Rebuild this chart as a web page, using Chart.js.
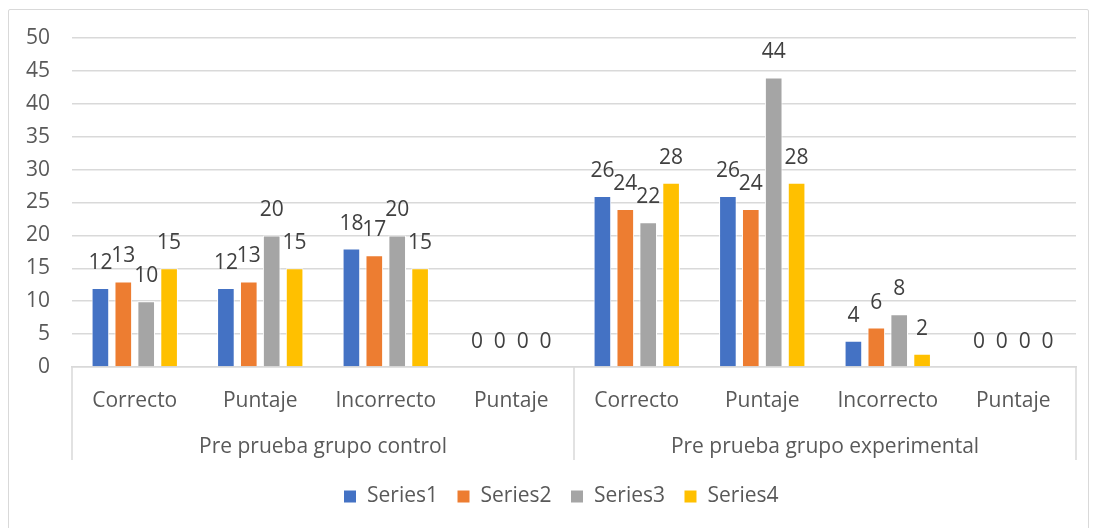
<!DOCTYPE html>
<html>
<head>
<meta charset="utf-8">
<script src="https://cdn.jsdelivr.net/npm/chart.js@4/dist/chart.umd.min.js"></script>
<style>
    html, body { margin: 0; padding: 0; background: #ffffff; }
    #wrap { position: relative; width: 1094px; height: 528px; }
    #frame { position: absolute; left: 8px; top: 9px; width: 1081px; height: 530px; border: 1px solid #d9d9d9; border-radius: 2px; box-sizing: border-box; }
    canvas { position: absolute; left: 0; top: 0; }
</style>
</head>
<body>
<div id="wrap">
    <div id="frame"></div>
    <canvas id="chart" width="1094" height="528"></canvas>
</div>
<script>
const categories = ['Correcto', 'Puntaje', 'Incorrecto', 'Puntaje', 'Correcto', 'Puntaje', 'Incorrecto', 'Puntaje'];
const groups = ['Pre prueba grupo control', 'Pre prueba grupo experimental'];

const series1 = [12, 12, 18, 0, 26, 26, 4, 0];
const series2 = [13, 13, 17, 0, 24, 24, 6, 0];
const series3 = [10, 20, 20, 0, 22, 44, 8, 0];
const series4 = [15, 15, 15, 0, 28, 28, 2, 0];

const yTicks = [0, 5, 10, 15, 20, 25, 30, 35, 40, 45, 50];

const colors = {
    blue: '#4472C4',
    orange: '#ED7D31',
    gray: '#A5A5A5',
    yellow: '#FFC000',
};

const fontFamily = '"Open Sans", sans-serif';
const fontSize = 21;
const axisTextColor = '#595959';
const labelTextColor = '#404040';
const lineColor = '#d9d9d9';

// value labels above each bar
const valueLabels = {
    id: 'valueLabels',
    afterDatasetsDraw(chart) {
        const ctx = chart.ctx;
        ctx.save();
        ctx.font = fontSize + 'px ' + fontFamily;
        ctx.fillStyle = labelTextColor;
        ctx.textAlign = 'center';
        ctx.textBaseline = 'middle';
        chart.data.datasets.forEach((ds, i) => {
            chart.getDatasetMeta(i).data.forEach((bar, j) => {
                ctx.fillText(String(ds.data[j]), bar.x, bar.y - 25);
            });
        });
        ctx.restore();
    }
};

// separators of the two-level category axis
const groupLines = {
    id: 'groupLines',
    afterDraw(chart) {
        const {ctx, chartArea} = chart;
        const x = chart.scales.x;
        const x2 = chart.scales.x2;
        const half = categories.length / 2;
        const mid = (x.getPixelForTick(half - 1) + x.getPixelForTick(half)) / 2;
        ctx.save();
        ctx.strokeStyle = lineColor;
        ctx.lineWidth = 1.5;
        [chartArea.left, mid, chartArea.right].forEach(px => {
            ctx.beginPath();
            ctx.moveTo(px, chartArea.bottom);
            ctx.lineTo(px, x2.top + 40);
            ctx.stroke();
        });
        ctx.restore();
    }
};

// the original legend sits a little right of the canvas centre
const legendShift = {
    id: 'legendShift',
    afterLayout(chart) {
        if (chart.legend) {
            chart.legend.left += 46;
        }
    }
};

const makeSet = (label, data, color) => ({
    label: label,
    data: data,
    backgroundColor: color,
    borderColor: '#ffffff',
    borderWidth: 1,
    barPercentage: 0.77,
    categoryPercentage: 0.73,
});

const ctx = document.getElementById('chart').getContext('2d');

new Chart(ctx, {
    type: 'bar',
    data: {
        labels: categories,
        datasets: [
            makeSet('Series1', series1, colors.blue),
            makeSet('Series2', series2, colors.orange),
            makeSet('Series3', series3, colors.gray),
            makeSet('Series4', series4, colors.yellow),
        ],
    },
    options: {
        responsive: false,
        animation: false,
        layout: {
            padding: { left: 0, right: 18, top: 38, bottom: 11 },
        },
        scales: {
            y: {
                min: 0,
                max: 50,
                afterBuildTicks: (scale) => {
                    scale.ticks = yTicks.map(v => ({ value: v }));
                },
                afterFit: (scale) => { scale.width = 72; },
                border: { display: false },
                grid: {
                    color: lineColor,
                    lineWidth: 1.5,
                    drawTicks: false,
                },
                ticks: {
                    padding: 22,
                    color: axisTextColor,
                    font: { family: fontFamily, size: fontSize },
                },
            },
            x: {
                position: 'bottom',
                afterFit: (scale) => { scale.height = 53; },
                border: { color: lineColor, width: 1.5 },
                grid: { display: false, drawTicks: false },
                ticks: {
                    padding: 21,
                    maxRotation: 0,
                    autoSkip: false,
                    color: axisTextColor,
                    font: { family: fontFamily, size: fontSize },
                },
            },
            x2: {
                type: 'category',
                labels: groups,
                position: 'bottom',
                afterFit: (scale) => { scale.height = 47; },
                border: { display: false },
                grid: { display: false, drawTicks: false },
                ticks: {
                    padding: 14,
                    maxRotation: 0,
                    color: axisTextColor,
                    font: { family: fontFamily, size: fontSize },
                },
            },
        },
        plugins: {
            legend: {
                position: 'bottom',
                labels: {
                    boxWidth: 13,
                    boxHeight: 13,
                    padding: 19,
                    color: axisTextColor,
                    font: { family: fontFamily, size: fontSize },
                },
            },
            tooltip: { enabled: false },
        },
    },
    plugins: [valueLabels, groupLines, legendShift],
});
</script>
</body>
</html>
